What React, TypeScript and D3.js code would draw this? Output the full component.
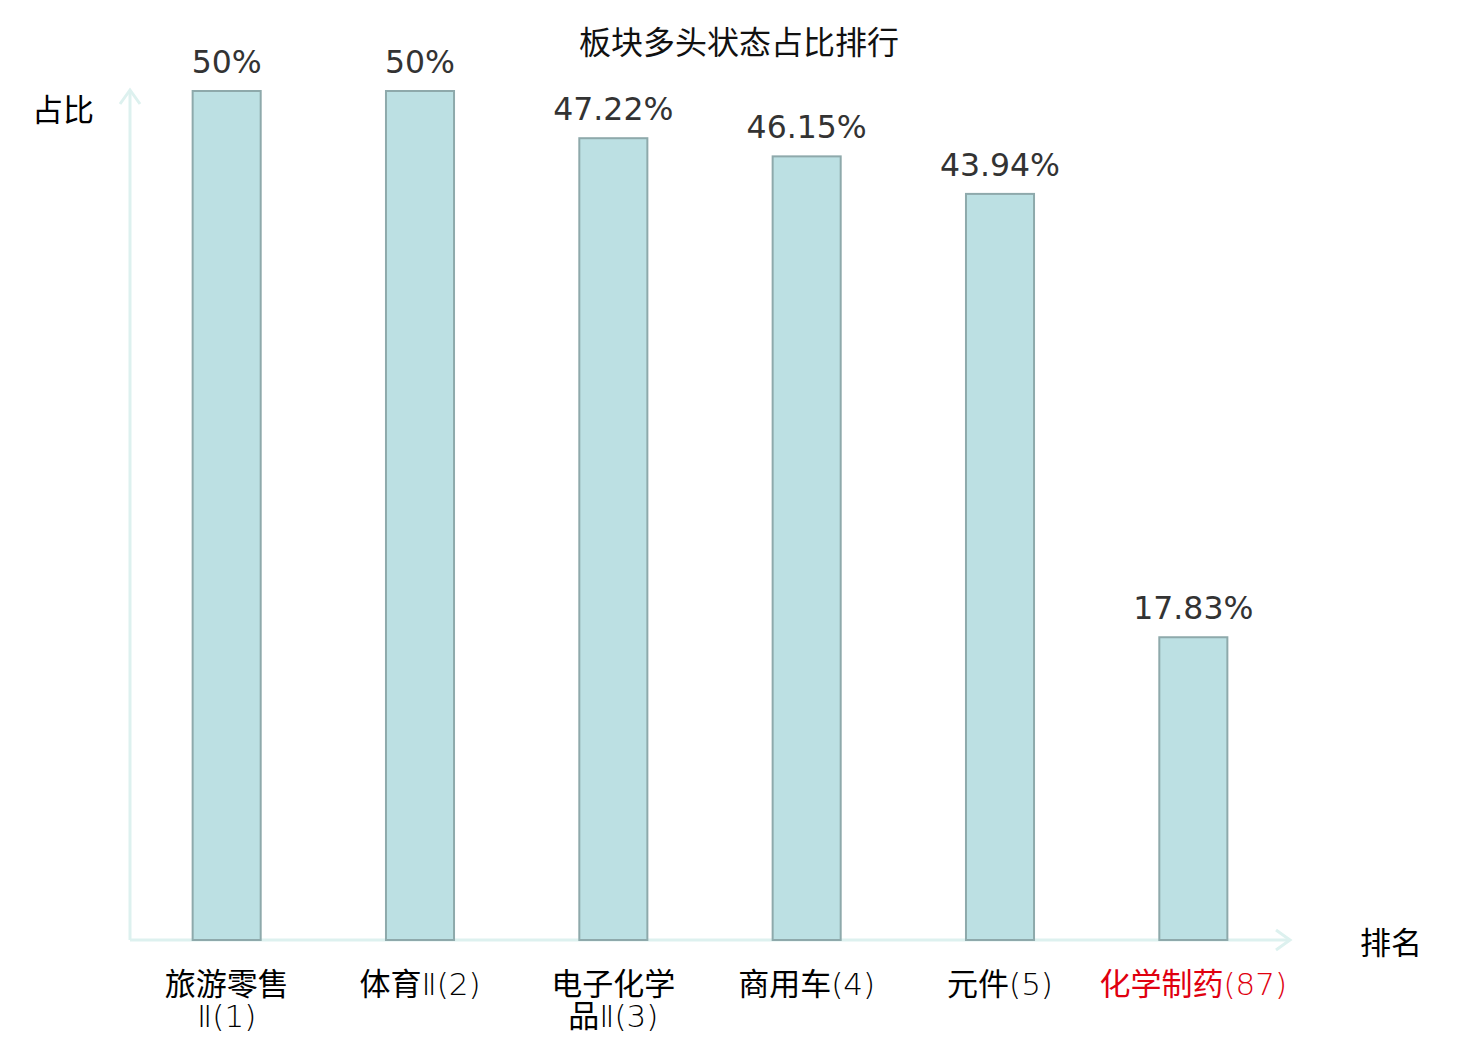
import * as d3 from 'd3'

const title = '板块多头状态占比排行'
const categories = [
  ['旅游零售', 'Ⅱ(1)'],
  ['体育Ⅱ(2)'],
  ['电子化学', '品Ⅱ(3)'],
  ['商用车(4)'],
  ['元件(5)'],
  ['化学制药(87)']
]
const values = [50, 50, 47.22, 46.15, 43.94, 17.83]
const valueLabels = ['50%', '50%', '47.22%', '46.15%', '43.94%', '17.83%']
const highlight = [false, false, false, false, false, true]

const W = 1480
const H = 1040
const x0 = 130
const x1 = 1290
const yBase = 940
const yTop = 91

const cjk = '"Noto Sans CJK SC", "Noto Sans", sans-serif'
const latinLight = '"DejaVu Sans ExtraLight", "DejaVu Sans", sans-serif'
const axisColor = '#ddf1ef'

// split a label into CJK runs and latin/digit runs (the latter drawn thin)
const runs = (s: string) => s.split(/([\u2160-\u217F()0-9]+)/).filter((r) => r.length)
const isLatin = (r: string) => /^[\u2160-\u217F()0-9]+$/.test(r)

const App = () => {
  const x = d3
    .scaleBand()
    .domain(categories.map((_, i) => String(i)))
    .range([x0, x1])
    .paddingInner(0.648)
    .paddingOuter(0.324)

  const y = d3.scaleLinear().domain([0, 50]).range([yBase, yTop])

  return (
    <div style={{ position: 'absolute', left: 0, top: 0 }}>
      <svg width={W} height={H}>
        <rect width={W} height={H} fill='#fff' />
        <text x={739} y={54} textAnchor='middle' fontFamily={cjk} fontSize={32} fill='#111'>
          {title}
        </text>

        {/* axes with open arrow heads */}
        <line x1={x0} y1={yBase} x2={x0} y2={90} stroke={axisColor} strokeWidth={3} />
        <path d={`M${x0 - 10},${104} L${x0},${90} L${x0 + 10},${104}`} fill='none' stroke={axisColor} strokeWidth={3} />
        <line x1={x0} y1={yBase} x2={x1} y2={yBase} stroke={axisColor} strokeWidth={3} />
        <path d={`M${x1 - 14},${yBase - 10} L${x1},${yBase} L${x1 - 14},${yBase + 10}`} fill='none' stroke={axisColor} strokeWidth={3} />

        <text x={63} y={121} textAnchor='middle' fontFamily={cjk} fontSize={31} fill='#000'>占比</text>
        <text x={1391} y={954} textAnchor='middle' fontFamily={cjk} fontSize={31} fill='#000'>排名</text>

        {values.map((v, i) => {
          const bx = x(String(i))
          const cx = bx + x.bandwidth() / 2
          return (
            <g key={i}>
              <rect
                x={bx}
                y={y(v)}
                width={x.bandwidth()}
                height={yBase - y(v)}
                fill='#bce0e3'
                stroke='#8ea9ab'
                strokeWidth={2}
              />
              <text
                x={cx}
                y={y(v) - 18}
                textAnchor='middle'
                fontFamily='"DejaVu Sans", sans-serif'
                fontSize={31.5}
                fill='#333'
              >
                {valueLabels[i]}
              </text>
              <text
                x={cx}
                y={995}
                textAnchor='middle'
                fontFamily={cjk}
                fontSize={31}
                fill={highlight[i] ? '#e0000f' : '#000'}
              >
                {categories[i].map((line, j) => (
                  <tspan key={j} x={cx} dy={j === 0 ? 0 : 32}>
                    {runs(line).map((r, k) =>
                      isLatin(r) ? (
                        <tspan key={k} fontFamily={latinLight} fontWeight={200}>
                          {r}
                        </tspan>
                      ) : (
                        <tspan key={k}>{r}</tspan>
                      )
                    )}
                  </tspan>
                ))}
              </text>
            </g>
          )
        })}
      </svg>
    </div>
  )
}

export default App
